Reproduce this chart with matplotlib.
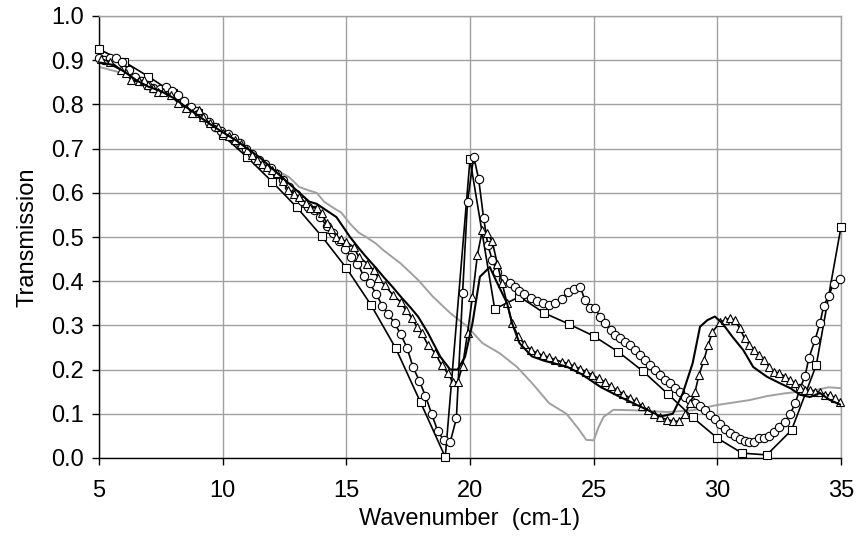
import matplotlib
matplotlib.use("Agg")
import matplotlib.pyplot as plt

plt.rcParams['font.family'] = ['Liberation Sans', 'DejaVu Sans']

# squares, one point per wavenumber
sq_x = [5, 6, 7, 8, 9, 10, 11, 12, 13, 14, 15, 16, 17, 18, 19, 20, 21, 22, 23, 24,
        25, 26, 27, 28, 29, 30, 31, 32, 33, 34, 35]
sq_y = [0.925, 0.897, 0.863, 0.826, 0.780, 0.730, 0.680, 0.625, 0.567, 0.502, 0.430,
        0.346, 0.248, 0.126, 0.002, 0.676, 0.337, 0.365, 0.328, 0.303, 0.276, 0.240,
        0.196, 0.145, 0.092, 0.045, 0.011, 0.007, 0.063, 0.210, 0.523]

# circles
ci_x = [5.0, 5.2, 5.45, 5.7, 5.95, 6.2, 6.45, 6.7, 6.95, 7.2, 7.45, 7.7, 7.95, 8.2,
        8.45, 8.7, 8.95, 9.2, 9.45, 9.7, 9.95, 10.2, 10.45, 10.7, 10.95, 11.2, 11.45,
        11.7, 11.95, 12.2, 12.45, 12.7, 12.95, 13.2, 13.45, 13.7, 13.95, 14.2, 14.45,
        14.7, 14.95, 15.2, 15.45, 15.7, 15.95, 16.2, 16.45, 16.7, 16.95, 17.2, 17.45,
        17.7, 17.95, 18.2, 18.45, 18.7, 18.95, 19.2, 19.45, 19.7, 19.9, 20.15, 20.35,
        20.55, 20.72, 20.9, 21.1, 21.35, 21.6, 21.8, 22.0, 22.2, 22.45, 22.7, 22.95,
        23.2, 23.45, 23.7, 23.95, 24.2, 24.45, 24.65, 24.85, 25.05, 25.25, 25.45, 25.7,
        25.87, 26.07, 26.27, 26.47, 26.68, 26.88, 27.08, 27.28, 27.48, 27.68, 27.89,
        28.09, 28.29, 28.49, 28.69, 28.9, 29.1, 29.3, 29.5, 29.7, 29.9, 30.1, 30.3,
        30.5, 30.7, 30.9, 31.1, 31.3, 31.5, 31.7, 31.9, 32.1, 32.3, 32.5, 32.75, 32.95,
        33.15, 33.35, 33.55, 33.7, 33.95, 34.15, 34.3, 34.5, 34.7, 34.96]
ci_y = [0.905, 0.900, 0.905, 0.905, 0.895, 0.878, 0.862, 0.852, 0.845, 0.838, 0.835,
        0.840, 0.830, 0.822, 0.808, 0.795, 0.785, 0.772, 0.760, 0.750, 0.740, 0.733,
        0.725, 0.712, 0.700, 0.688, 0.675, 0.665, 0.655, 0.642, 0.628, 0.612, 0.598,
        0.582, 0.568, 0.560, 0.545, 0.525, 0.508, 0.492, 0.472, 0.455, 0.440, 0.412,
        0.395, 0.372, 0.345, 0.325, 0.305, 0.280, 0.250, 0.205, 0.175, 0.140, 0.100,
        0.060, 0.040, 0.036, 0.090, 0.373, 0.580, 0.682, 0.631, 0.543, 0.482, 0.448,
        0.420, 0.405, 0.395, 0.386, 0.378, 0.370, 0.362, 0.355, 0.350, 0.347, 0.350,
        0.360, 0.375, 0.383, 0.388, 0.357, 0.340, 0.340, 0.320, 0.305, 0.290, 0.278,
        0.271, 0.263, 0.256, 0.245, 0.233, 0.222, 0.211, 0.199, 0.188, 0.177, 0.169,
        0.158, 0.150, 0.139, 0.131, 0.124, 0.118, 0.108, 0.098, 0.088, 0.078, 0.066,
        0.057, 0.050, 0.044, 0.039, 0.036, 0.036, 0.045, 0.045, 0.050, 0.058, 0.070,
        0.082, 0.100, 0.124, 0.158, 0.186, 0.226, 0.267, 0.305, 0.344, 0.367, 0.394,
        0.405]

# triangles
tr_x = [5.1, 5.45, 5.9, 6.1, 6.3, 6.6, 6.8, 7.0, 7.2, 7.4, 7.6, 7.9, 8.2, 8.5, 8.75,
        9.05, 9.2, 9.5, 9.8, 10.0, 10.25, 10.5, 10.75, 11.0, 11.2, 11.4, 11.6, 11.8,
        12.0, 12.2, 12.45, 12.65, 12.9, 13.1, 13.35, 13.55, 13.8, 14.0, 14.2, 14.4,
        14.6, 14.8, 15.0, 15.3, 15.5, 15.85, 16.1, 16.3, 16.55, 16.9, 17.2, 17.4,
        17.65, 17.85, 18.05, 18.3, 18.6, 18.85, 19.1, 19.3, 19.5, 19.7, 19.9, 20.1,
        20.3, 20.5, 20.7, 20.9, 21.1, 21.3, 21.5, 21.7, 21.95, 22.2, 22.45, 22.7,
        22.95, 23.2, 23.45, 23.7, 23.95, 24.2, 24.45, 24.7, 24.95, 25.2, 25.45, 25.7,
        25.95, 26.2, 26.45, 26.7, 26.95, 27.2, 27.45, 27.7, 27.95, 28.2, 28.45, 28.7,
        28.9, 29.1, 29.26, 29.46, 29.63, 29.8, 30.1, 30.3, 30.5, 30.7, 30.9, 31.1,
        31.3, 31.5, 31.7, 31.9, 32.1, 32.3, 32.5, 32.75, 32.95, 33.15, 33.35, 33.55,
        33.75, 33.95, 34.15, 34.35, 34.55, 34.75, 34.95]
tr_y = [0.902, 0.897, 0.878, 0.870, 0.855, 0.852, 0.855, 0.844, 0.837, 0.829, 0.829,
        0.821, 0.803, 0.792, 0.780, 0.787, 0.771, 0.757, 0.749, 0.735, 0.728, 0.720,
        0.710, 0.697, 0.686, 0.674, 0.666, 0.659, 0.652, 0.645, 0.626, 0.606, 0.598,
        0.591, 0.578, 0.566, 0.566, 0.554, 0.532, 0.518, 0.500, 0.495, 0.489, 0.477,
        0.455, 0.440, 0.425, 0.407, 0.391, 0.368, 0.353, 0.335, 0.317, 0.297, 0.282,
        0.256, 0.237, 0.210, 0.192, 0.172, 0.172, 0.208, 0.283, 0.365, 0.460, 0.515,
        0.508, 0.490, 0.440, 0.395, 0.350, 0.305, 0.275, 0.258, 0.245, 0.238, 0.232,
        0.228, 0.222, 0.218, 0.214, 0.208, 0.202, 0.195, 0.188, 0.180, 0.172, 0.162,
        0.153, 0.145, 0.136, 0.128, 0.118, 0.108, 0.100, 0.092, 0.087, 0.084, 0.083,
        0.100, 0.124, 0.150, 0.188, 0.222, 0.256, 0.285, 0.307, 0.312, 0.316, 0.312,
        0.294, 0.271, 0.256, 0.244, 0.233, 0.222, 0.206, 0.195, 0.192, 0.184, 0.176,
        0.170, 0.158, 0.154, 0.154, 0.150, 0.150, 0.143, 0.143, 0.136, 0.127]

# black line, no markers
bl_x = [5.0, 5.5, 6.0, 6.5, 7.0, 7.5, 8.0, 8.5, 9.0, 9.5, 10.0, 10.5, 11.0, 11.5,
        12.0, 12.5, 13.0, 13.5, 13.8, 14.2, 14.6, 15.15, 15.5, 15.8, 16.2, 16.5, 16.9,
        17.2, 17.6, 17.9, 18.3, 18.8, 19.2, 19.5, 19.8, 20.1, 20.4, 20.8, 21.1, 21.5,
        21.7, 22.0, 22.5, 23.0, 23.9, 24.5, 25.3, 26.0, 26.6, 27.2, 27.7, 28.2, 28.6,
        29.0, 29.3, 29.6, 29.9, 30.2, 30.6, 31.05, 31.45, 32.0, 32.5, 32.95, 33.35,
        33.75, 34.15, 34.55, 35.0]
bl_y = [0.895, 0.890, 0.875, 0.855, 0.840, 0.830, 0.815, 0.795, 0.775, 0.755, 0.737,
        0.720, 0.700, 0.680, 0.655, 0.630, 0.605, 0.580, 0.575, 0.560, 0.545, 0.500,
        0.475, 0.455, 0.430, 0.410, 0.385, 0.365, 0.340, 0.320, 0.283, 0.229, 0.200,
        0.200, 0.229, 0.305, 0.410, 0.432, 0.396, 0.350, 0.305, 0.260, 0.230, 0.220,
        0.207, 0.190, 0.160, 0.140, 0.124, 0.108, 0.094, 0.100, 0.146, 0.214, 0.297,
        0.312, 0.320, 0.305, 0.275, 0.244, 0.206, 0.184, 0.170, 0.158, 0.143, 0.138,
        0.147, 0.131, 0.120]

# grey line, no markers
gr_x = [5.0, 6.0, 7.0, 8.0, 9.0, 10.0, 10.5, 11.1, 11.6, 12.2, 12.7, 13.1, 13.5, 13.8,
        14.1, 14.5, 14.8, 15.15, 15.5, 15.8, 16.2, 16.5, 17.2, 17.9, 18.5, 19.2, 19.9,
        20.5, 21.2, 21.9, 22.5, 23.2, 23.9, 24.4, 24.7, 25.0, 25.2, 25.4, 25.8, 26.6,
        28.0, 29.0, 30.0, 31.3, 32.0, 32.7, 33.3, 34.0, 34.5, 35.0]
gr_y = [0.885, 0.870, 0.840, 0.815, 0.775, 0.740, 0.725, 0.690, 0.675, 0.650, 0.635,
        0.613, 0.605, 0.600, 0.580, 0.565, 0.555, 0.530, 0.510, 0.500, 0.485, 0.470,
        0.440, 0.403, 0.365, 0.328, 0.297, 0.260, 0.237, 0.206, 0.170, 0.124, 0.100,
        0.065, 0.041, 0.040, 0.070, 0.093, 0.109, 0.108, 0.104, 0.108, 0.120, 0.131,
        0.140, 0.146, 0.150, 0.154, 0.160, 0.158]

x_ticks = [5, 10, 15, 20, 25, 30, 35]
y_ticks = [0.0, 0.1, 0.2, 0.3, 0.4, 0.5, 0.6, 0.7, 0.8, 0.9, 1.0]


def main():
    fig = plt.figure(figsize=(8.57, 5.44), dpi=100)
    ax = fig.add_axes([99 / 857, 1 - 458 / 544, (841 - 99) / 857, (458 - 16) / 544])

    mk = dict(markerfacecolor='white', markeredgecolor='black', markeredgewidth=0.8,
              color='black', linewidth=1.2, clip_on=False)
    ax.plot(gr_x, gr_y, color='#a0a0a0', linewidth=1.4, zorder=2)
    ax.plot(sq_x, sq_y, marker='s', markersize=6, zorder=3, **mk)
    ax.plot(ci_x, ci_y, marker='o', markersize=6, zorder=4, **mk)
    ax.plot(tr_x, tr_y, marker='^', markersize=6, zorder=5, **mk)
    ax.plot(bl_x, bl_y, color='black', linewidth=1.5, zorder=6)

    ax.set_xlim(5, 35)
    ax.set_ylim(0, 1)
    ax.set_xticks(x_ticks)
    ax.set_yticks(y_ticks)
    ax.set_yticklabels([f'{v:.1f}' for v in y_ticks])
    ax.grid(True, color='#a0a0a0', linewidth=1.0)
    ax.set_axisbelow(True)
    for s in ['top', 'right']:
        ax.spines[s].set_color('#a0a0a0')
        ax.spines[s].set_linewidth(1.0)
    for s in ['left', 'bottom']:
        ax.spines[s].set_color('black')
        ax.spines[s].set_linewidth(1.0)
    ax.tick_params(direction='out', length=5, width=1.0, labelsize=17, pad=6)
    ax.tick_params(axis='x', pad=11)
    ax.set_xlabel('Wavenumber  (cm-1)', fontsize=17, labelpad=4)
    ax.set_ylabel('Transmission', fontsize=17, labelpad=9)

    plt.savefig('out.png', dpi=100)


if __name__ == "__main__":
    main()
